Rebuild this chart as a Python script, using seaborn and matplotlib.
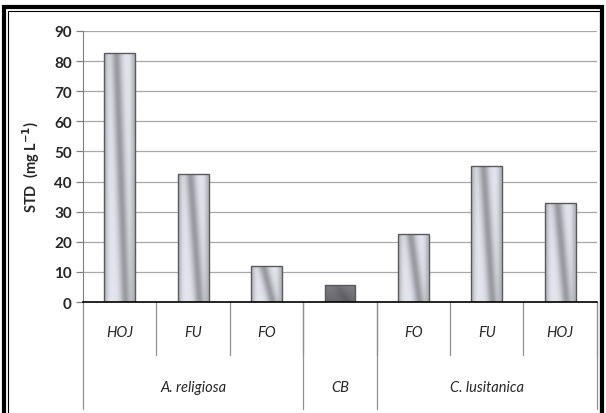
import numpy as np
import pandas as pd
import matplotlib
matplotlib.use("Agg")
import matplotlib.pyplot as plt
import seaborn as sns
from matplotlib.patches import Rectangle
from matplotlib.colors import LinearSegmentedColormap

# data
groups = ["A. religiosa", "A. religiosa", "A. religiosa", "CB",
          "C. lusitanica", "C. lusitanica", "C. lusitanica"]
parts = ["HOJ", "FU", "FO", "", "FO", "FU", "HOJ"]
std_values = [82.5, 42.5, 11.8, 5.8, 22.6, 45.0, 33.0]
group_names = ["A. religiosa", "CB", "C. lusitanica"]
group_sizes = [3, 1, 3]

df = pd.DataFrame({"slot": [f"{g}|{p}" for g, p in zip(groups, parts)],
                   "std": std_values})

sns.set_style("white")
plt.rcParams["font.family"] = ["Lato", "DejaVu Sans"]

fig = plt.figure(figsize=(6.06, 4.14), dpi=100)
ax = fig.add_axes([0.137, 0.268, 0.848, 0.655])

sns.barplot(data=df, x="slot", y="std", order=list(df["slot"]),
            color="#d8d8e0", width=0.42, edgecolor="#5a5a5a",
            linewidth=1.0, ax=ax, zorder=3)

metal = LinearSegmentedColormap.from_list(
    "metal", ["#3c3c40", "#77777d", "#b4b4bc", "#e9e9f3"])

# metallic diagonal gradient inside each bar ("\" direction)
ny, nx = 80, 40
vv, uu = np.mgrid[0:1:ny * 1j, 0:1:nx * 1j]
for i, patch in enumerate(ax.patches):
    x0 = patch.get_x()
    w = patch.get_width()
    h = patch.get_height()
    centre = 0.4 + 0.3 * vv
    stripe = np.exp(-((uu - centre) / 0.17) ** 2)
    edge = np.exp(-(uu / 0.12) ** 2) + np.exp(-((1 - uu) / 0.12) ** 2)
    if parts[i] == "":
        img = 0.25 + 0.12 * (1 - vv) - 0.08 * stripe
    else:
        img = 0.97 - 0.45 * stripe - 0.3 * edge
    im = ax.imshow(img, cmap=metal, vmin=0, vmax=1, aspect="auto",
                   extent=(x0, x0 + w, 0, h), origin="upper",
                   interpolation="bilinear", zorder=3)
    im.set_clip_path(patch)
    patch.set_facecolor("none")
    patch.set_zorder(4)

ax.set_xlim(-0.5, len(parts) - 0.5)
ax.set_ylim(0, 90)
ax.set_yticks(range(0, 91, 10))
ax.yaxis.grid(True, color="#a8a8a8", linewidth=0.9, zorder=0)
ax.tick_params(axis="y", left=True, length=5, width=0.9, color="#808080",
               labelsize=11, pad=3)
for lab in ax.get_yticklabels():
    lab.set_fontweight("bold")
ax.set_xticks([])
ax.set_xlabel("")
ax.set_ylabel("STD  (mg L$^{\\mathbf{-1}}$)", fontsize=10.5, fontweight="bold",
              labelpad=9)

for side in ["top", "right"]:
    ax.spines[side].set_visible(False)
ax.spines["left"].set_color("#808080")
ax.spines["bottom"].set_color("black")
ax.spines["bottom"].set_linewidth(1.2)
ax.spines["bottom"].set_zorder(5)

# two-level category axis below the plot
trans = ax.get_xaxis_transform()
line_kw = dict(color="#909090", linewidth=0.9, clip_on=False, transform=trans)
for i, p in enumerate(parts):
    ax.text(i, -0.11, p, transform=trans, ha="center", va="center",
            fontsize=10.5, style="italic")
    ax.plot([i + 0.5, i + 0.5], [0, -0.196], **line_kw)

start = 0
bounds = [-0.5]
for name, size in zip(group_names, group_sizes):
    ax.text(start + (size - 1) / 2, -0.314, name, transform=trans,
            ha="center", va="center", fontsize=10.5, style="italic")
    start += size
    bounds.append(start - 0.5)
for b in bounds:
    ax.plot([b, b], [0, -0.395], **line_kw)

# black double frame round the figure
fig.patches.append(Rectangle((0.006, -0.02), 0.988, 1.0, fill=False,
                             edgecolor="black", linewidth=3.0,
                             transform=fig.transFigure))
fig.patches.append(Rectangle((0.014, -0.02), 0.976, 0.99, fill=False,
                             edgecolor="black", linewidth=0.8,
                             transform=fig.transFigure))

fig.savefig("out.png", dpi=100)
